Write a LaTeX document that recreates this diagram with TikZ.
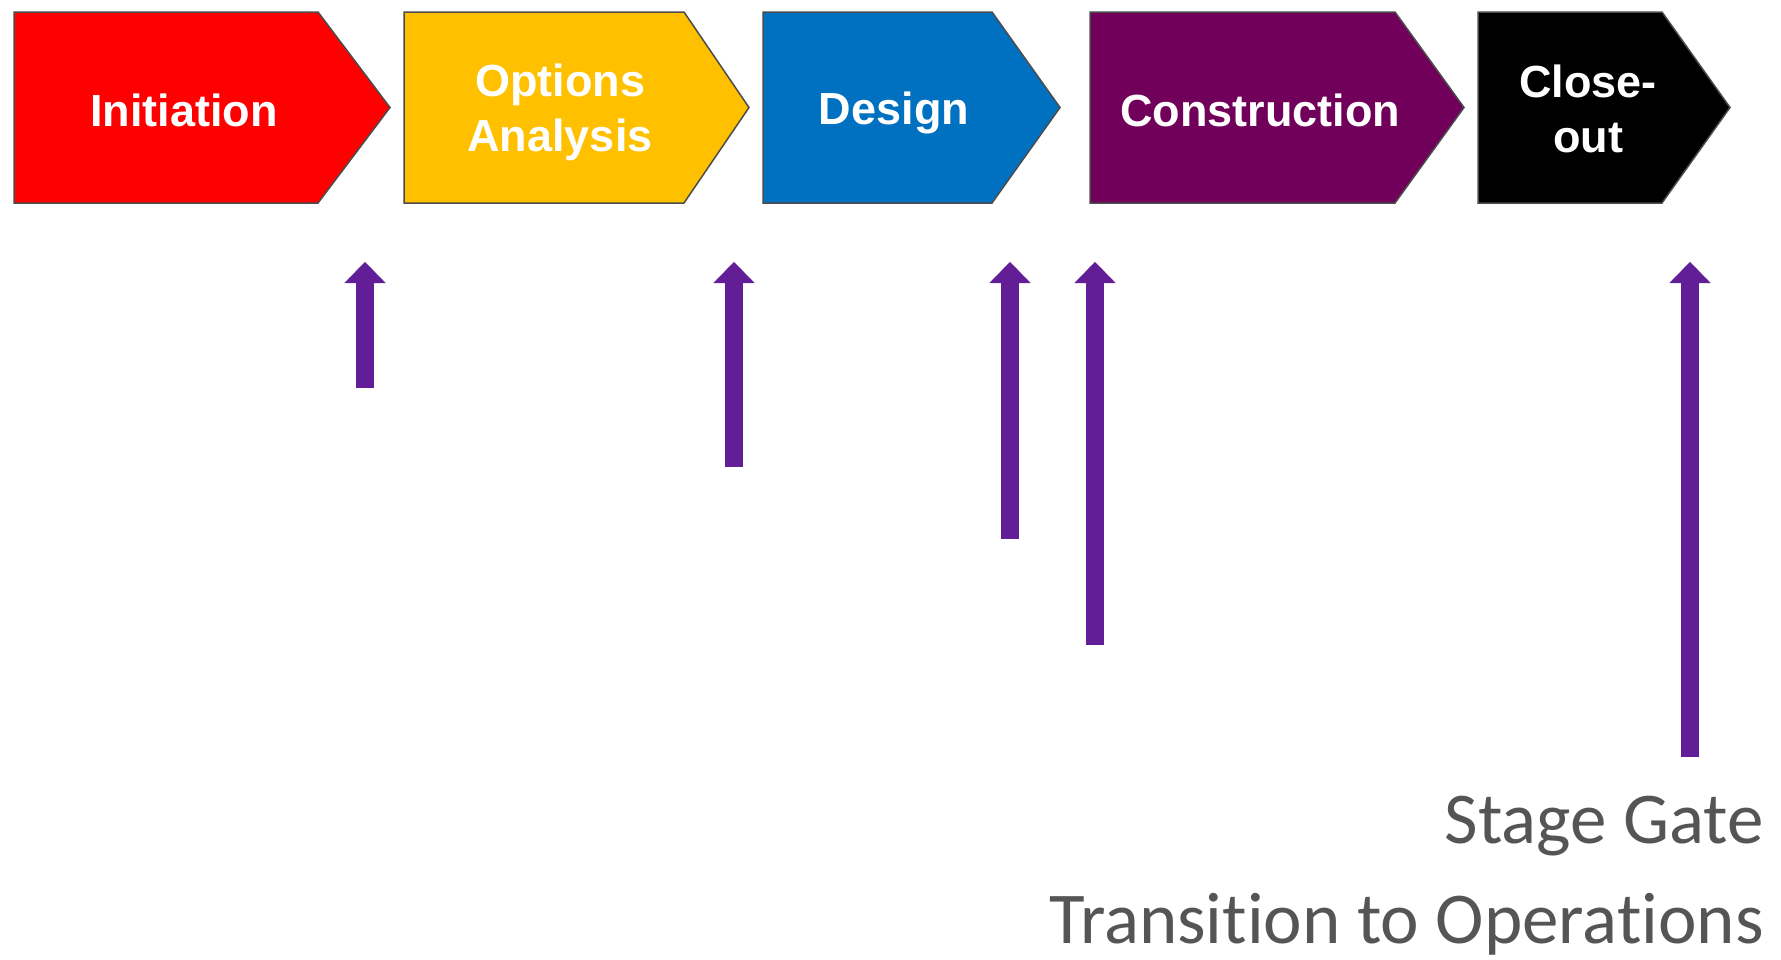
\documentclass[tikz,border=0pt]{standalone}
\usepackage{fontspec}
\setmainfont{Carlito}[Ligatures=NoCommon]
\newfontfamily\boxfont{Liberation Sans}
\usetikzlibrary{arrows.meta}
\definecolor{initred}{HTML}{FF0000}
\definecolor{optyellow}{HTML}{FFC000}
\definecolor{designblue}{HTML}{0070C0}
\definecolor{constrplum}{HTML}{70005A}
\definecolor{gatepurple}{HTML}{621E97}
\definecolor{labelgray}{HTML}{555555}
\begin{document}
\begin{tikzpicture}[x=1pt,y=-1pt,
    stage/.style={draw=black!70, line width=1.5pt, line join=miter},
    stagetext/.style={text=white, align=center,
        font=\boxfont\bfseries\fontsize{45}{55}\selectfont},
    gate/.style={draw=gatepurple, line width=18pt,
        -{Triangle[width=41pt,length=21pt,line width=0.1pt]}},
    legend/.style={text=labelgray, anchor=base east, inner sep=0pt,
        font=\fontsize{73}{88}\selectfont}]
    \useasboundingbox (0,0) rectangle (1781,959);

    % stages
    \draw[stage, fill=initred] (14,12) -- (318,12) -- (390,107.5) -- (318,203) -- (14,203) -- cycle;
    \draw[stage, fill=optyellow] (404,12) -- (684,12) -- (749,107.5) -- (684,203) -- (404,203) -- cycle;
    \draw[stage, fill=designblue] (763,12) -- (992,12) -- (1060,107.5) -- (992,203) -- (763,203) -- cycle;
    \draw[stage, fill=constrplum] (1090,12) -- (1395,12) -- (1464,107.5) -- (1395,203) -- (1090,203) -- cycle;
    \draw[stage, fill=black] (1478,12) -- (1662,12) -- (1730,107.5) -- (1662,203) -- (1478,203) -- cycle;

    \node[stagetext] (init) at (184,110) {Initiation};
    \node[stagetext] (options) at (560,112) {Options\\Analysis};
    \node[stagetext] (design) at (894,113) {Design};
    \node[stagetext] (constr) at (1260,110) {Construction};
    \node[stagetext] (closeout) at (1588,109) {Close-\\out};

    % stage gates
    \coordinate (g1 top) at (365,262);  \coordinate (g1 foot) at (365,388);
    \coordinate (g2 top) at (734,262);  \coordinate (g2 foot) at (734,467);
    \coordinate (g3 top) at (1010,262); \coordinate (g3 foot) at (1010,539);
    \coordinate (g4 top) at (1095,262); \coordinate (g4 foot) at (1095,645);
    \coordinate (g5 top) at (1690,262); \coordinate (g5 foot) at (1690,757);
    \draw[gate] (g1 foot) -- (g1 top);
    \draw[gate] (g2 foot) -- (g2 top);
    \draw[gate] (g3 foot) -- (g3 top);
    \draw[gate] (g4 foot) -- (g4 top);
    \draw[gate] (g5 foot) -- (g5 top);

    \node[legend] (gatelabel) at (1764,843) {Stage Gate};
    \node[legend] (translabel) at (1764,943) {Transition to Operations};
\end{tikzpicture}
\end{document}
